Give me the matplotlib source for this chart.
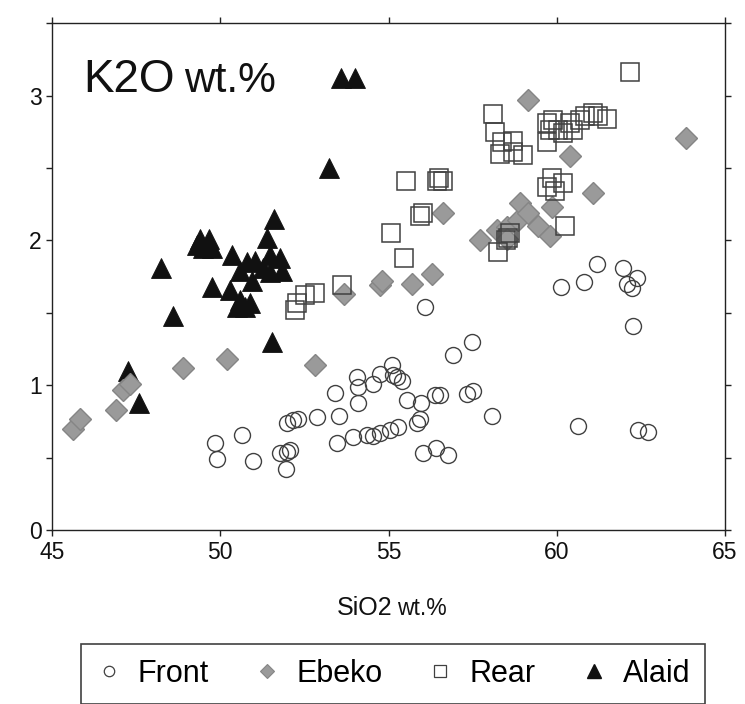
import matplotlib
matplotlib.use("Agg")
import matplotlib.pyplot as plt
from matplotlib.lines import Line2D

plt.rcParams['font.family'] = ['Liberation Sans', 'DejaVu Sans']

# SiO2 (x) and K2O (y) in wt.% for each volcanic group
front_sio2 = [56.08, 57.48, 56.92, 53.41, 54.06, 54.09, 54.54, 54.75, 55.10, 55.13,
              55.25, 55.40, 54.09, 55.55, 55.97, 56.38, 56.52, 57.33, 57.51, 58.08,
              52.88, 53.53, 52.16, 51.98, 52.31, 49.84, 49.90, 50.65, 50.97, 51.78,
              51.98, 52.07, 51.95, 53.47, 53.94, 54.36, 54.54, 54.75, 55.04, 55.28,
              55.85, 55.94, 56.03, 56.41, 56.77, 61.20, 60.81, 60.13, 61.97, 62.38,
              62.09, 62.24, 62.27, 60.63, 62.42, 62.71]
front_k2o = [1.54, 1.30, 1.21, 0.95, 1.06, 0.99, 1.01, 1.08, 1.14, 1.07,
             1.06, 1.03, 0.88, 0.90, 0.88, 0.93, 0.93, 0.94, 0.96, 0.79,
             0.78, 0.79, 0.76, 0.74, 0.77, 0.60, 0.49, 0.66, 0.48, 0.53,
             0.54, 0.55, 0.42, 0.60, 0.64, 0.66, 0.65, 0.67, 0.69, 0.71,
             0.74, 0.77, 0.53, 0.57, 0.52, 1.84, 1.71, 1.68, 1.81, 1.74,
             1.70, 1.67, 1.41, 0.72, 0.69, 0.68]

ebeko_sio2 = [45.62, 45.83, 46.90, 47.11, 47.32, 48.89, 50.20, 52.82, 53.68, 54.75,
              54.81, 55.70, 56.29, 56.62, 57.72, 58.22, 58.52, 58.52, 58.85, 58.91,
              59.15, 59.44, 59.80, 59.86, 59.15, 60.39, 61.08, 63.84]
ebeko_k2o = [0.70, 0.77, 0.83, 0.97, 1.01, 1.12, 1.18, 1.14, 1.63, 1.69,
             1.72, 1.70, 1.77, 2.19, 2.00, 2.07, 2.09, 2.01, 2.14, 2.26,
             2.19, 2.10, 2.03, 2.23, 2.97, 2.58, 2.33, 2.71]

rear_sio2 = [62.18, 58.11, 58.17, 58.37, 58.70, 58.31, 58.70, 59.00, 59.71, 59.80,
             59.71, 60.04, 60.19, 60.48, 60.84, 61.08, 61.23, 61.49, 59.89, 60.39,
             60.69, 59.86, 59.71, 60.19, 59.95, 60.25, 58.25, 58.55, 58.61, 58.49,
             55.52, 56.44, 56.62, 56.50, 56.03, 55.94, 55.07, 55.46, 53.62, 52.28,
             52.52, 52.82, 52.22]
rear_k2o = [3.16, 2.87, 2.75, 2.68, 2.69, 2.60, 2.61, 2.59, 2.81, 2.76,
            2.68, 2.76, 2.74, 2.76, 2.86, 2.88, 2.86, 2.84, 2.83, 2.81,
            2.83, 2.43, 2.37, 2.40, 2.34, 2.10, 1.92, 2.02, 2.05, 2.00,
            2.41, 2.41, 2.41, 2.43, 2.19, 2.17, 2.05, 1.88, 1.69, 1.57,
            1.62, 1.64, 1.52]

alaid_sio2 = [53.59, 54.00, 53.23, 51.60, 51.39, 49.40, 49.67, 49.49, 49.75, 49.31,
              48.24, 48.60, 51.54, 50.35, 49.75, 50.80, 51.03, 51.48, 51.78, 51.84,
              51.48, 50.94, 50.59, 51.27, 50.29, 50.59, 50.88, 50.50, 50.74, 47.26,
              47.59]
alaid_k2o = [3.12, 3.12, 2.50, 2.15, 2.02, 2.01, 2.01, 1.95, 1.95, 1.97,
             1.81, 1.48, 1.30, 1.90, 1.68, 1.85, 1.86, 1.90, 1.88, 1.79,
             1.78, 1.72, 1.79, 1.81, 1.66, 1.59, 1.57, 1.54, 1.54, 1.10,
             0.88]

group_names = ['Front', 'Ebeko', 'Rear', 'Alaid']
x_ticks = [45, 50, 55, 60, 65]
y_ticks = [0, 0.5, 1, 1.5, 2, 2.5, 3, 3.5]
y_tick_labels = ['0', '', '1', '', '2', '', '3', '']

fig = plt.figure(figsize=(7.45, 7.04), dpi=100)
ax = fig.add_axes([0.0698, 0.247, 0.9034, 0.720])

edge_dark = '#404040'
ax.plot(front_sio2, front_k2o, linestyle='none', marker='o', markersize=11.5,
        markerfacecolor='none', markeredgecolor=edge_dark, markeredgewidth=1.0, zorder=2)
ax.plot(alaid_sio2, alaid_k2o, linestyle='none', marker='^', markersize=14.5,
        markerfacecolor='#111111', markeredgecolor='#111111', markeredgewidth=0.6, zorder=3)
ax.plot(ebeko_sio2, ebeko_k2o, linestyle='none', marker='D', markersize=11.3,
        markerfacecolor='#9a9a9a', markeredgecolor='#858585', markeredgewidth=1.0, zorder=4)
ax.plot(rear_sio2, rear_k2o, linestyle='none', marker='s', markersize=13.5,
        markerfacecolor='none', markeredgecolor=edge_dark, markeredgewidth=1.1, zorder=5)

ax.set_xlim(45, 65)
ax.set_ylim(0, 3.5)
ax.set_xticks(x_ticks)
ax.set_xticklabels([str(v) for v in x_ticks])
ax.set_yticks(y_ticks)
ax.set_yticklabels(y_tick_labels)
ax.tick_params(axis='both', which='both', direction='out', length=4.5, width=1.0,
               color='#222222', labelsize=16.5, labelcolor='#111111',
               top=True, right=True, pad=3)
for side in ax.spines.values():
    side.set_linewidth(1.0)
    side.set_color('#222222')

# panel title with the unit part set after it
ax.text(0.046, 0.864, 'K2O', transform=ax.transAxes, fontsize=33,
        ha='left', va='baseline', color='#111111')
ax.text(0.196, 0.864, 'wt.%', transform=ax.transAxes, fontsize=30.5,
        ha='left', va='baseline', color='#111111')

# x axis title
fig.text(0.527, 0.126, 'SiO2', fontsize=18, ha='right', va='baseline', color='#111111')
fig.text(0.533, 0.126, 'wt.%', fontsize=16.5, ha='left', va='baseline', color='#111111')

handles = [
    Line2D([], [], linestyle='none', marker='o', markersize=7.5, markerfacecolor='none',
           markeredgecolor=edge_dark, markeredgewidth=0.9),
    Line2D([], [], linestyle='none', marker='D', markersize=7.5, markerfacecolor='#9a9a9a',
           markeredgecolor='#858585', markeredgewidth=0.8),
    Line2D([], [], linestyle='none', marker='s', markersize=8, markerfacecolor='none',
           markeredgecolor=edge_dark, markeredgewidth=0.9),
    Line2D([], [], linestyle='none', marker='^', markersize=9.5, markerfacecolor='#111111',
           markeredgecolor='#111111'),
]
leg = fig.legend(handles, group_names, loc='center', bbox_to_anchor=(0.528, 0.0426),
                 ncol=4, fontsize=22, frameon=True, fancybox=False, handlelength=0.8,
                 handletextpad=0.55, columnspacing=1.5, borderpad=0.5)
leg.get_frame().set_edgecolor('#111111')
leg.get_frame().set_linewidth(1.2)

fig.savefig('out.png', dpi=100)
